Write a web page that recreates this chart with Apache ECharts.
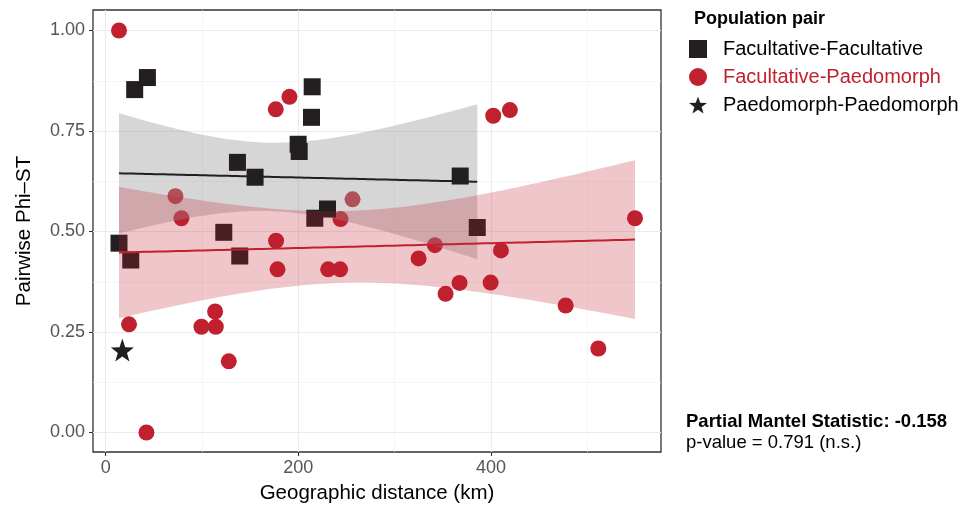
<!DOCTYPE html>
<html>
<head>
<meta charset="utf-8">
<script src="https://cdn.jsdelivr.net/npm/echarts@6/dist/echarts.min.js"></script>
<style>
  html, body { margin: 0; padding: 0; background: #fff; }
  #chart { width: 966px; height: 511px; }
</style>
</head>
<body>
<div id="chart"></div>
<script>
  // [geographic distance (km), pairwise Phi-ST]
  const facFac = [
    [13.8, 0.471], [26.0, 0.429], [30.1, 0.853], [43.3, 0.883], [122.6, 0.498],
    [136.8, 0.672], [139.2, 0.439], [155.1, 0.635], [199.8, 0.717], [200.9, 0.699],
    [213.7, 0.784], [214.4, 0.860], [217.1, 0.533], [230.3, 0.556], [368.1, 0.638],
    [385.8, 0.510]
  ]
  const facPaed = [
    [13.8, 1.000], [24.2, 0.269], [42.3, 0.000], [72.4, 0.588], [78.6, 0.533],
    [99.4, 0.263], [113.6, 0.301], [114.3, 0.263], [127.8, 0.177], [176.6, 0.804],
    [176.9, 0.477], [178.4, 0.406], [190.8, 0.835], [231.0, 0.406], [243.4, 0.406],
    [243.8, 0.531], [256.3, 0.580], [324.9, 0.433], [341.8, 0.466], [352.9, 0.345],
    [367.4, 0.372], [399.7, 0.373], [402.4, 0.788], [410.4, 0.453], [419.7, 0.802],
    [477.6, 0.316], [511.5, 0.209], [549.6, 0.533]
  ]
  const paedPaed = [[17.3, 0.205]]

  const xTicks = [0, 200, 400]
  const xMinor = [100, 300, 500]
  const yTicks = [0, 0.25, 0.5, 0.75, 1]
  const yMinor = [0.125, 0.375, 0.625, 0.875]

  // t quantiles (95%) for n-2 degrees of freedom
  const tFacFac = 2.145
  const tFacPaed = 2.056

  const RED = '#C1202E'
  const DARK = '#231F20'
  const FONT = "'Liberation Sans', Arial, Helvetica, sans-serif"
  const STAR = 'path://M0,-10L2.35,-3.24L9.51,-3.09L3.8,1.24L5.88,8.09L0,4L-5.88,8.09L-3.8,1.24L-9.51,-3.09L-2.35,-3.24Z'

  // linear fit + confidence band, like geom_smooth(method = "lm")
  function lmBand(pts, t) {
    const n = pts.length
    let mx = 0, my = 0
    pts.forEach(p => { mx += p[0]; my += p[1] })
    mx /= n; my /= n
    let sxx = 0, sxy = 0
    pts.forEach(p => { sxx += (p[0] - mx) ** 2; sxy += (p[0] - mx) * (p[1] - my) })
    const b = sxy / sxx, a = my - b * mx
    let sse = 0
    pts.forEach(p => { const r = p[1] - (a + b * p[0]); sse += r * r })
    const s = Math.sqrt(sse / (n - 2))
    const lo = Math.min(...pts.map(p => p[0])), hi = Math.max(...pts.map(p => p[0]))
    const out = []
    for (let i = 0; i < 80; i++) {
      const x = lo + (hi - lo) * i / 79
      const fit = a + b * x
      const se = s * Math.sqrt(1 / n + (x - mx) ** 2 / sxx)
      out.push([x, fit - t * se, fit + t * se, fit])
    }
    return out
  }

  function bandSeries(band, color, opacity, z) {
    return {
      type: 'custom', z: z, silent: true,
      data: [[band[0][0], band[0][3]]],
      renderItem(params, api) {
        const upper = band.map(d => api.coord([d[0], d[2]]))
        const lower = band.slice().reverse().map(d => api.coord([d[0], d[1]]))
        return { type: 'polygon', shape: { points: upper.concat(lower) }, style: { fill: color, opacity: opacity } }
      }
    }
  }

  function fitLine(band, color) {
    return {
      type: 'line', z: 7, silent: true, showSymbol: false,
      data: band.map(d => [d[0], d[3]]),
      lineStyle: { color: color, width: 2 }
    }
  }

  const bandFF = lmBand(facFac, tFacFac)
  const bandFP = lmBand(facPaed, tFacPaed)

  const chart = echarts.init(document.getElementById('chart'))

  const option = {
    animation: false,
    textStyle: { fontFamily: FONT },
    grid: { left: 93, top: 10, width: 568, height: 442, show: true, borderColor: '#333', borderWidth: 1.3, backgroundColor: 'transparent' },
    title: [
      { text: 'Population pair', left: 694, top: 10, padding: 0, textStyle: { fontSize: 18, fontWeight: 'bold', color: '#000', fontFamily: FONT } },
      {
        text: 'Partial Mantel Statistic: -0.158', subtext: 'p-value = 0.791 (n.s.)',
        left: 686, top: 412, padding: 0, itemGap: 2,
        textStyle: { fontSize: 18.5, fontWeight: 'bold', color: '#000', fontFamily: FONT },
        subtextStyle: { fontSize: 18.5, color: '#000', fontFamily: FONT }
      }
    ],
    legend: {
      left: 689, top: 39, orient: 'vertical', padding: 0,
      itemWidth: 18, itemHeight: 18, itemGap: 8, selectedMode: false,
      textStyle: { fontSize: 20, color: '#000', fontFamily: FONT, padding: [0, 0, 0, 11] },
      data: [
        { name: 'Facultative-Facultative', icon: 'rect' },
        { name: 'Facultative-Paedomorph', icon: 'circle', textStyle: { color: RED } },
        { name: 'Paedomorph-Paedomorph', icon: STAR }
      ]
    },
    xAxis: [{
      type: 'value', min: -13.2, max: 576.6,
      name: 'Geographic distance (km)', nameLocation: 'middle', nameGap: 31,
      nameTextStyle: { fontSize: 20.5, color: '#000', fontFamily: FONT },
      axisLine: { show: false, onZero: false },
      axisTick: { show: true, customValues: xTicks, length: 4, lineStyle: { color: '#333', width: 1.1 } },
      axisLabel: { customValues: xTicks, color: '#555', fontSize: 18, margin: 7, fontFamily: FONT },
      splitLine: { show: true, lineStyle: { color: '#EBEBEB', width: 1.1 } }
    }, {
      type: 'value', min: -13.2, max: 576.6, position: 'bottom',
      axisLine: { show: false, onZero: false },
      axisTick: { show: false, customValues: xMinor },
      axisLabel: { show: false, customValues: xMinor },
      splitLine: { show: true, lineStyle: { color: '#F2F2F2', width: 0.7 } }
    }],
    yAxis: [{
      type: 'value', min: -0.0485, max: 1.051,
      name: 'Pairwise Phi\u2013ST', nameLocation: 'middle', nameGap: 58,
      nameTextStyle: { fontSize: 20.5, color: '#000', fontFamily: FONT },
      axisLine: { show: false, onZero: false },
      axisTick: { show: true, customValues: yTicks, length: 4, lineStyle: { color: '#333', width: 1.1 } },
      axisLabel: { customValues: yTicks, color: '#555', fontSize: 18, margin: 8, fontFamily: FONT, formatter: v => v.toFixed(2) },
      splitLine: { show: true, lineStyle: { color: '#EBEBEB', width: 1.1 } }
    }, {
      type: 'value', min: -0.0485, max: 1.051, position: 'left',
      axisLine: { show: false, onZero: false },
      axisTick: { show: false, customValues: yMinor },
      axisLabel: { show: false, customValues: yMinor },
      splitLine: { show: true, lineStyle: { color: '#F2F2F2', width: 0.7 } }
    }],
    series: [
      // layer order as in the figure: red points, grey band, dark points, red band, fit lines
      { name: 'Facultative-Paedomorph', type: 'scatter', z: 2, symbol: 'circle', symbolSize: 16, data: facPaed, itemStyle: { color: RED, opacity: 1 } },
      bandSeries(bandFF, '#999999', 0.4, 3),
      { name: 'Facultative-Facultative', type: 'scatter', z: 4, symbol: 'rect', symbolSize: 17, data: facFac, itemStyle: { color: DARK, opacity: 1 } },
      { name: 'Paedomorph-Paedomorph', type: 'scatter', z: 4, symbol: STAR, symbolSize: 23, data: paedPaed, itemStyle: { color: DARK, opacity: 1 } },
      bandSeries(bandFP, RED, 0.25, 5),
      fitLine(bandFF, DARK),
      fitLine(bandFP, RED)
    ]
  }

  chart.setOption(option)
</script>
</body>
</html>
